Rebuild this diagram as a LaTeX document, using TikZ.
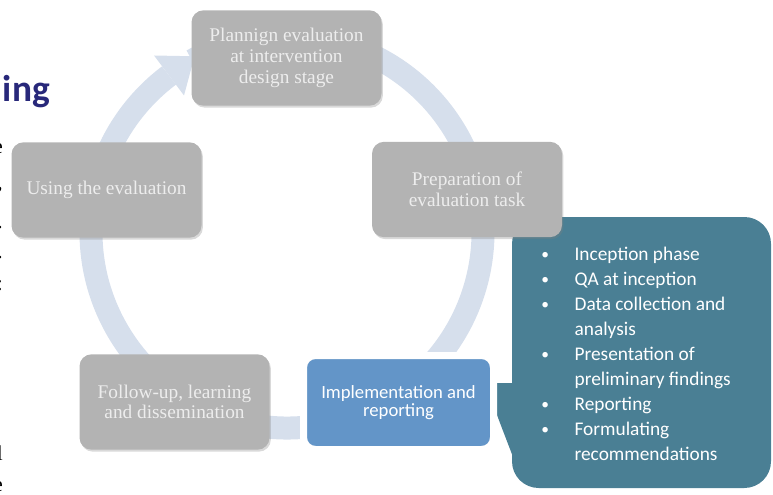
\documentclass[tikz,border=0pt]{standalone}
\usepackage{fontspec}
\setmainfont{Liberation Serif}
\newfontfamily\calib{Carlito}
\usepackage{tikz}
\usetikzlibrary{shadows}

\definecolor{ringblue}{HTML}{D6DFEC}
\definecolor{boxgray}{HTML}{B3B3B3}
\definecolor{boxtext}{HTML}{EDEDED}
\definecolor{implblue}{HTML}{6395C8}
\definecolor{calloutteal}{HTML}{4A7F94}
\definecolor{titlenavy}{HTML}{28287A}

\newcommand\lbul{\makebox[25pt][l]{\raisebox{0.6pt}{\scalebox{0.8}{\textbullet}}}}
\newcommand\lind{\hspace*{25pt}}

\begin{document}
\begin{tikzpicture}[x=0.75pt,y=-0.75pt,
	stage/.style={rectangle, rounded corners=9pt, fill=boxgray, text=boxtext, align=center,
		minimum width=142.5pt, minimum height=71.5pt, font=\fontsize{14.5}{15.5}\selectfont,
		drop shadow={shadow xshift=1pt, shadow yshift=-1.5pt, opacity=0.3}},
	current/.style={rectangle, rounded corners=9pt, fill=implblue, draw=white, line width=5.25pt,
		text=white, align=center, minimum width=142.5pt, minimum height=70.5pt,
		font=\calib\fontsize{14}{14}\selectfont,
		drop shadow={shadow xshift=1pt, shadow yshift=-1.5pt, opacity=0.2}},
	ring/.style={draw=ringblue, line width=17.25pt},
	steplist/.style={text=white, align=left, inner sep=0pt, font=\calib\fontsize{14.5}{18.75}\selectfont},
	margintext/.style={anchor=base east, inner sep=0pt, font=\fontsize{16}{16}\selectfont}]

    \useasboundingbox (0,0) rectangle (773,495);

    % cut-off text of the slide
    \node[anchor=base east, inner sep=0pt, text=titlenavy, font=\calib\bfseries\fontsize{28}{28}\selectfont] (title) at (50,102) {ing};
    \foreach \ty/\tc [count=\ti] in {154/e, 190/{,}, 228/., 258/., 290/:, 460/l, 491/e}
        \node[margintext] (frag\ti) at (3,\ty) {\tc};

    % the cycle
    \coordinate (hub) at (287,232);
    \draw[ring] (hub) ++(-119:196) arc[start angle=-119, end angle=233, radius=196];
    \fill[ringblue] (154,55.5) -- (194.6,56.3) -- (184,95.5) -- cycle;

    % callout with the steps
    \fill[calloutteal, rounded corners=20pt] (512,217) rectangle (771,488);
    \fill[calloutteal, rounded corners=6pt] (545,383) -- (485,383) -- (500,423) -- (518,470) -- (560,488) -- cycle;
    \node[steplist, anchor=west] (steps) at (541,354) {%
        \lbul Inception phase\\
        \lbul QA at inception\\
        \lbul Data collection and\\
        \lind analysis\\
        \lbul Presentation of\\
        \lind preliminary findings\\
        \lbul Reporting\\
        \lbul Formulating\\
        \lind recommendations};

    \node[stage] (plan) at (286.5,58) {Plannign evaluation\\at intervention\\design stage};
    \node[stage] (prep) at (467,189.5) {Preparation of\\evaluation task};
    \node[current] (impl) at (398.5,402.5) {Implementation and\\reporting};
    \node[stage] (follow) at (174.5,402) {Follow-up, learning\\and dissemination};
    \node[stage] (use) at (106.5,190) {Using the evaluation};

\end{tikzpicture}
\end{document}
